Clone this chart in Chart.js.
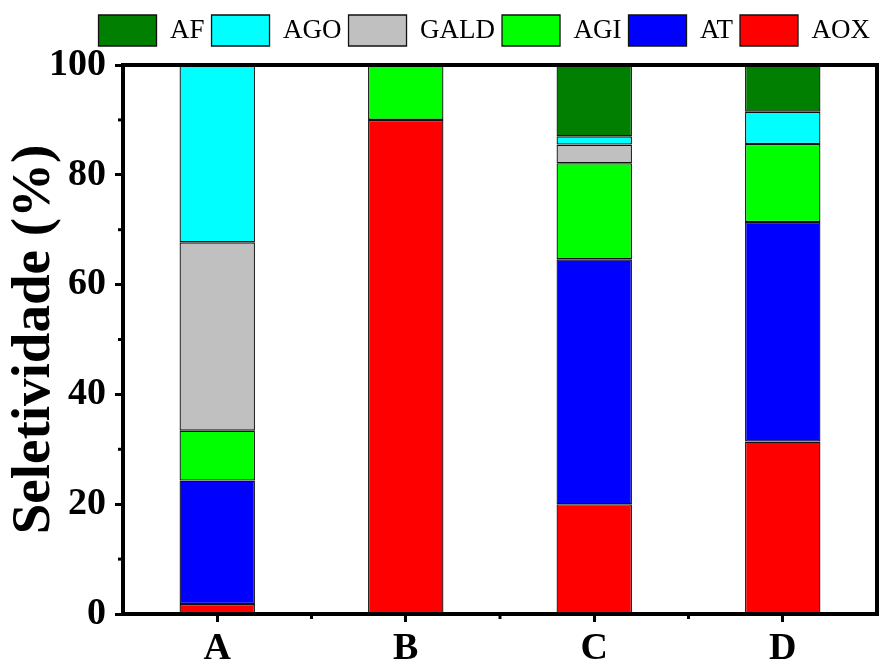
<!DOCTYPE html>
<html>
<head>
<meta charset="utf-8">
<script src="https://cdn.jsdelivr.net/npm/chart.js@4/dist/chart.umd.min.js"></script>
<style>
  html, body { margin: 0; padding: 0; background: #fff; }
  #wrap { width: 882px; height: 665px; }
</style>
</head>
<body>
<div id="wrap"><canvas id="chart"></canvas></div>
<script>
// categories and stacked series (bottom to top)
const categories = ['A', 'B', 'C', 'D'];
const aox  = [1.8, 90, 20.0, 31.4];
const at   = [22.5, 0, 44.6, 40.0];
const agi  = [9.1, 10, 17.5, 14.2];
const gald = [34.3, 0, 3.4, 0];
const ago  = [32.3, 0, 1.5, 5.9];
const af   = [0, 0, 13.0, 8.5];
const yTicks = [0, 20, 40, 60, 80, 100];
const yMinor = [10, 30, 50, 70, 90];

const serif = "'Liberation Serif', 'Times New Roman', serif";

function makeSet(label, data, color) {
  return {
    label: label,
    data: data,
    backgroundColor: color,
    borderColor: '#111',
    borderWidth: 1.3,
    borderSkipped: false
  };
}

// adds a little space under the legend
const legendGap = {
  id: 'legendGap',
  beforeInit(chart) {
    const fit = chart.legend.fit;
    chart.legend.fit = function () {
      fit.bind(chart.legend)();
      this.height += 9;
    };
  }
};

// frame around plot and minor ticks
const frame = {
  id: 'frame',
  afterDraw(chart) {
    const ctx = chart.ctx;
    const a = chart.chartArea;
    const x = chart.scales.x, y = chart.scales.y;
    ctx.save();
    ctx.strokeStyle = '#000';
    ctx.lineWidth = 3;
    yMinor.forEach(v => {
      const py = y.getPixelForValue(v);
      ctx.beginPath(); ctx.moveTo(a.left - 5, py); ctx.lineTo(a.left, py); ctx.stroke();
    });
    [0.5, 1.5, 2.5].forEach(v => {
      const px = x.getPixelForValue(v);
      ctx.beginPath(); ctx.moveTo(px, a.bottom); ctx.lineTo(px, a.bottom + 5); ctx.stroke();
    });
    ctx.lineWidth = 4;
    ctx.strokeRect(a.left, a.top, a.right - a.left, a.bottom - a.top);
    ctx.restore();
  }
};

const ctx = document.getElementById('chart');
new Chart(ctx, {
  type: 'bar',
  data: {
    labels: categories,
    datasets: [
      makeSet('AOX', aox, '#ff0000'),
      makeSet('AT', at, '#0000ff'),
      makeSet('AGI', agi, '#00ff00'),
      makeSet('GALD', gald, '#c0c0c0'),
      makeSet('AGO', ago, '#00ffff'),
      makeSet('AF', af, '#007f00')
    ]
  },
  options: {
    responsive: true,
    maintainAspectRatio: false,
    animation: false,
    layout: { padding: { top: 8, right: 5, left: 0, bottom: 0 } },
    datasets: { bar: { categoryPercentage: 1, barPercentage: 0.4 } },
    plugins: {
      tooltip: { enabled: false },
      legend: {
        position: 'top',
        align: 'end',
        reverse: true,
        labels: {
          boxWidth: 58,
          boxHeight: 31,
          padding: 7,
          color: '#000',
          font: { family: serif, size: 27 }
        }
      }
    },
    scales: {
      x: {
        stacked: true,
        afterFit: (s) => { s.height = 51; },
        border: { display: false },
        grid: { drawOnChartArea: false, offset: false, tickLength: 8, tickWidth: 3, tickColor: '#000' },
        ticks: { color: '#000', padding: 4, font: { family: serif, size: 38, weight: 'bold' } }
      },
      y: {
        stacked: true,
        min: 0,
        max: 100,
        afterBuildTicks: (s) => { s.ticks = yTicks.map(v => ({ value: v })); },
        afterFit: (s) => { s.width = 123; },
        border: { display: false },
        grid: { drawOnChartArea: false, tickLength: 8, tickWidth: 3, tickColor: '#000' },
        ticks: { color: '#000', padding: 9, font: { family: serif, size: 38, weight: 'bold' } },
        title: {
          display: true,
          text: 'Seletividade (%)',
          color: '#000',
          padding: { top: 2, bottom: 0 },
          font: { family: serif, size: 55, weight: 'bold' }
        }
      }
    }
  },
  plugins: [legendGap, frame]
});
</script>
</body>
</html>
